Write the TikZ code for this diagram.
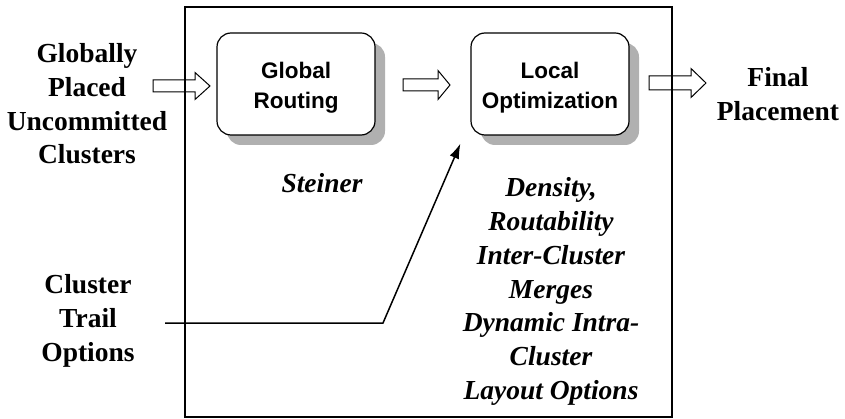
\documentclass[tikz,border=0pt]{standalone}
\usepackage{fontspec}
\setmainfont{Liberation Serif}
\setsansfont{Liberation Sans}
\usetikzlibrary{shadows,arrows.meta}

% open block arrow: start x, head base x, tip x, centre y, shaft half-height, head half-height
\newcommand\blockarrow[6]{%
  \draw[line width=1pt, line join=miter]
    (#1,{#4-#5}) -- (#2,{#4-#5}) -- (#2,{#4-#6}) -- (#3,#4)
    -- (#2,{#4+#6}) -- (#2,{#4+#5}) -- (#1,{#4+#5}) -- cycle;}
% invisible strut that lowers a stage's label a little
\newcommand\stagestrut{\rule{0pt}{24.6pt}}

\begin{document}
\begin{tikzpicture}[x=1pt, y=-1pt,
  stage/.style={draw, line width=1.2pt, rounded corners=14pt, fill=white,
    minimum width=158pt, minimum height=102pt, inner sep=0pt, align=center,
    font=\sffamily\bfseries\fontsize{22.5}{30}\selectfont,
    general shadow={fill=gray!62, shadow xshift=10pt, shadow yshift=-10pt}},
  lab/.style={inner sep=0pt, align=center,
    font=\bfseries\fontsize{27.5}{33.7}\selectfont},
  note/.style={inner sep=0pt, align=center,
    font=\bfseries\itshape\fontsize{27.5}{33.7}\selectfont},
  feed/.style={line width=1.5pt, -{Latex[length=15pt,width=10pt]}}]
\useasboundingbox (0,0) rectangle (845,419);

% frame round the two stages
\draw[line width=1.3pt] (185,7) rectangle (672,417);

% stages
\node[stage] (gr) at (296,84) {\stagestrut Global\\Routing};
\node[stage] (lo) at (550,84) {\stagestrut Local\\Optimization};

% inputs and output
\node[lab] (in)  at (87,104)  {Globally\\Placed\\Uncommitted\\Clusters};
\node[lab] (out) at (778,94) {Final\\Placement};
\node[lab] (cto) at (88,321)  {Cluster\\Trail\\Options};

% annotations
\node[note, anchor=base] (st) at (322,193) {Steiner};
\node[note] (goals) at (551,291.5)
  {Density,\\Routability\\Inter-Cluster\\Merges\\Dynamic Intra-\\Cluster\\Layout Options};

% flow arrows
\blockarrow{153}{195}{210}{86}{6}{13.5}
\blockarrow{403}{438}{450}{85}{6}{14.5}
\blockarrow{649}{691}{706}{83}{7}{14.5}

% cluster trail options feed into local optimization
\coordinate (ctoStart) at (165,323);
\coordinate (ctoBend) at (383,323);
\coordinate (ctoTip) at ([xshift=-10pt, yshift=-8pt]lo.south west);
\draw[feed] (ctoStart) -- (ctoBend) -- (ctoTip);
\end{tikzpicture}
\end{document}
